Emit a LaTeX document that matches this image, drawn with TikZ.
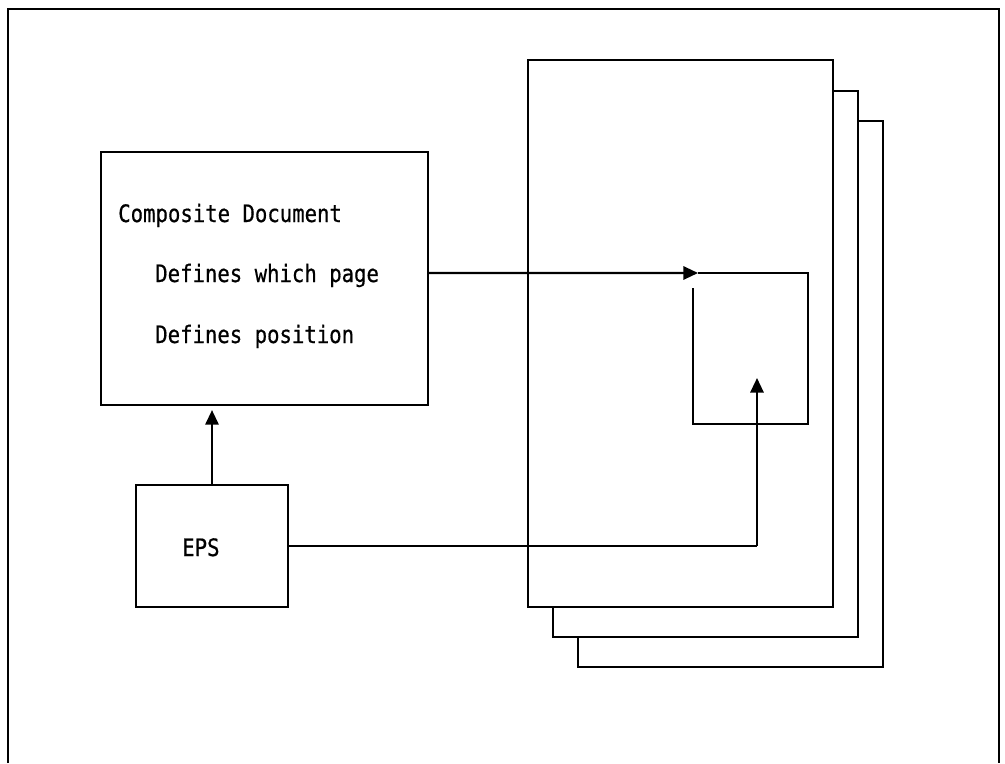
\documentclass[tikz,border=0pt]{standalone}
\usepackage{fontspec}
\newfontfamily\lblfont{DejaVu Sans Mono}[FakeStretch=0.86, FakeBold=0.6]
\usetikzlibrary{arrows.meta}
\tikzset{
  ln/.style={line width=1.6pt},
  box/.style={ln, draw=black, fill=white, rectangle, inner sep=0pt},
  pagebox/.style={box, minimum width=228.75pt, minimum height=410pt},
  lbl/.style={anchor=base west, inner sep=0pt, font=\lblfont\fontsize{18pt}{20pt}\selectfont},
  arr/.style={ln, -{Triangle[length=11pt,width=10pt]}}
}
\begin{document}
\begin{tikzpicture}[x=0.75pt, y=-0.75pt]
  \useasboundingbox (0,0) rectangle (1005,763);
  % outer frame, open at the bottom
  \draw[line width=1.9pt] (8,763) -- (8,9) -- (999,9) -- (999,763);

  % stack of pages
  \node[pagebox] (p3) at (730.5,394) {};
  \node[pagebox] (p2) at (705.5,364) {};
  \node[pagebox] (p1) at (680.5,333.5) {};

  % composite document box
  \node[box, minimum width=245.25pt, minimum height=189.75pt] (comp) at (264.5,278.5) {};
  \node[lbl] (t1) at (118,222) {Composite Document};
  \node[lbl] (t2) at (155,282) {Defines which page};
  \node[lbl] (t3) at (155,343) {Defines position};

  % EPS box
  \node[box, minimum width=114pt, minimum height=91.5pt] (eps) at (212,546) {};
  \node[lbl] (t4) at (182,556) {EPS};

  % placement area on the page
  \coordinate (c0) at ([yshift=4.1pt]comp.east);
  \coordinate (a1) at (698,273);
  \coordinate (r1) at (808,273);
  \coordinate (r2) at (808,424);
  \coordinate (r3) at (693,424);
  \coordinate (r4) at (693,288);
  \draw[arr] (c0) -- (a1);
  \draw[ln] (a1) -- (r1) -- (r2) -- (r3) -- (r4);

  % EPS into the placement area
  \coordinate (e1) at (757,546);
  \coordinate (e2) at (757,378);
  \draw[ln] (eps.east) -- (e1);
  \draw[arr] (e1) -- (e2);

  % EPS into the composite document
  \draw[arr, shorten >=3pt] (eps.north) -- (comp.south -| eps.north);
\end{tikzpicture}
\end{document}
